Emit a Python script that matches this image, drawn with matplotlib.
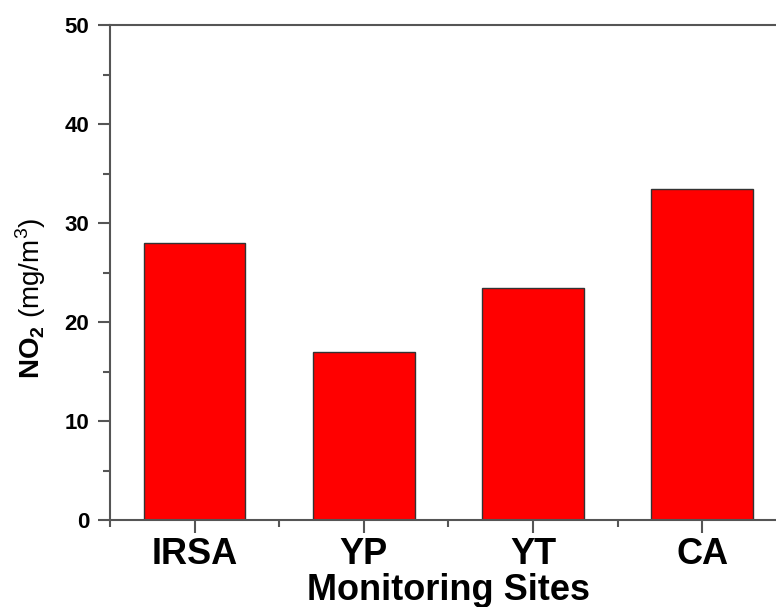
import numpy as np
import matplotlib
matplotlib.use("Agg")
import matplotlib.pyplot as plt
from matplotlib.ticker import MultipleLocator

# data
sites = ["IRSA", "YP", "YT", "CA"]
no2 = [28.0, 17.0, 23.4, 33.4]

plt.rcParams['font.family'] = ['Liberation Sans', 'DejaVu Sans']
plt.rcParams['mathtext.fontset'] = 'custom'
plt.rcParams['mathtext.rm'] = 'Liberation Sans'
plt.rcParams['mathtext.bf'] = 'Liberation Sans:bold'

fig = plt.figure(figsize=(7.76, 6.07), dpi=100)
# the right spine falls just outside the picture, like in the original
ax = fig.add_axes([0.1418, 0.1433, 0.872, 0.8155])

x = np.arange(1, len(sites) + 1)
ax.bar(x, no2, width=0.6, color='#ff0000', edgecolor='#333333', linewidth=1.0)

ax.set_xlim(0.5, 4.5)
ax.set_ylim(0, 50)
ax.set_xticks(x)
ax.set_xticklabels(sites, fontsize=26, fontweight='bold')
ax.xaxis.set_minor_locator(MultipleLocator(1, offset=0.5))
ax.yaxis.set_major_locator(MultipleLocator(10))
ax.yaxis.set_minor_locator(MultipleLocator(5))
for lbl in ax.get_yticklabels():
    lbl.set_fontsize(16)
    lbl.set_fontweight('bold')

for s in ax.spines.values():
    s.set_color('#555555')
    s.set_linewidth(1.5)

ax.tick_params(which='major', direction='out', length=9, width=1.5, color='#555555')
ax.tick_params(which='minor', direction='out', length=5, width=1.5, color='#555555')
ax.tick_params(axis='x', pad=3)
ax.tick_params(axis='y', pad=6)

ax.set_xlabel('Monitoring Sites', fontsize=26, fontweight='bold', labelpad=1)
ax.set_ylabel(r'$\mathbf{NO_2}$ (mg/m$^3$)', fontsize=20)
ax.yaxis.set_label_coords(-0.092, 0.448)

fig.savefig('out.png', dpi=100)
